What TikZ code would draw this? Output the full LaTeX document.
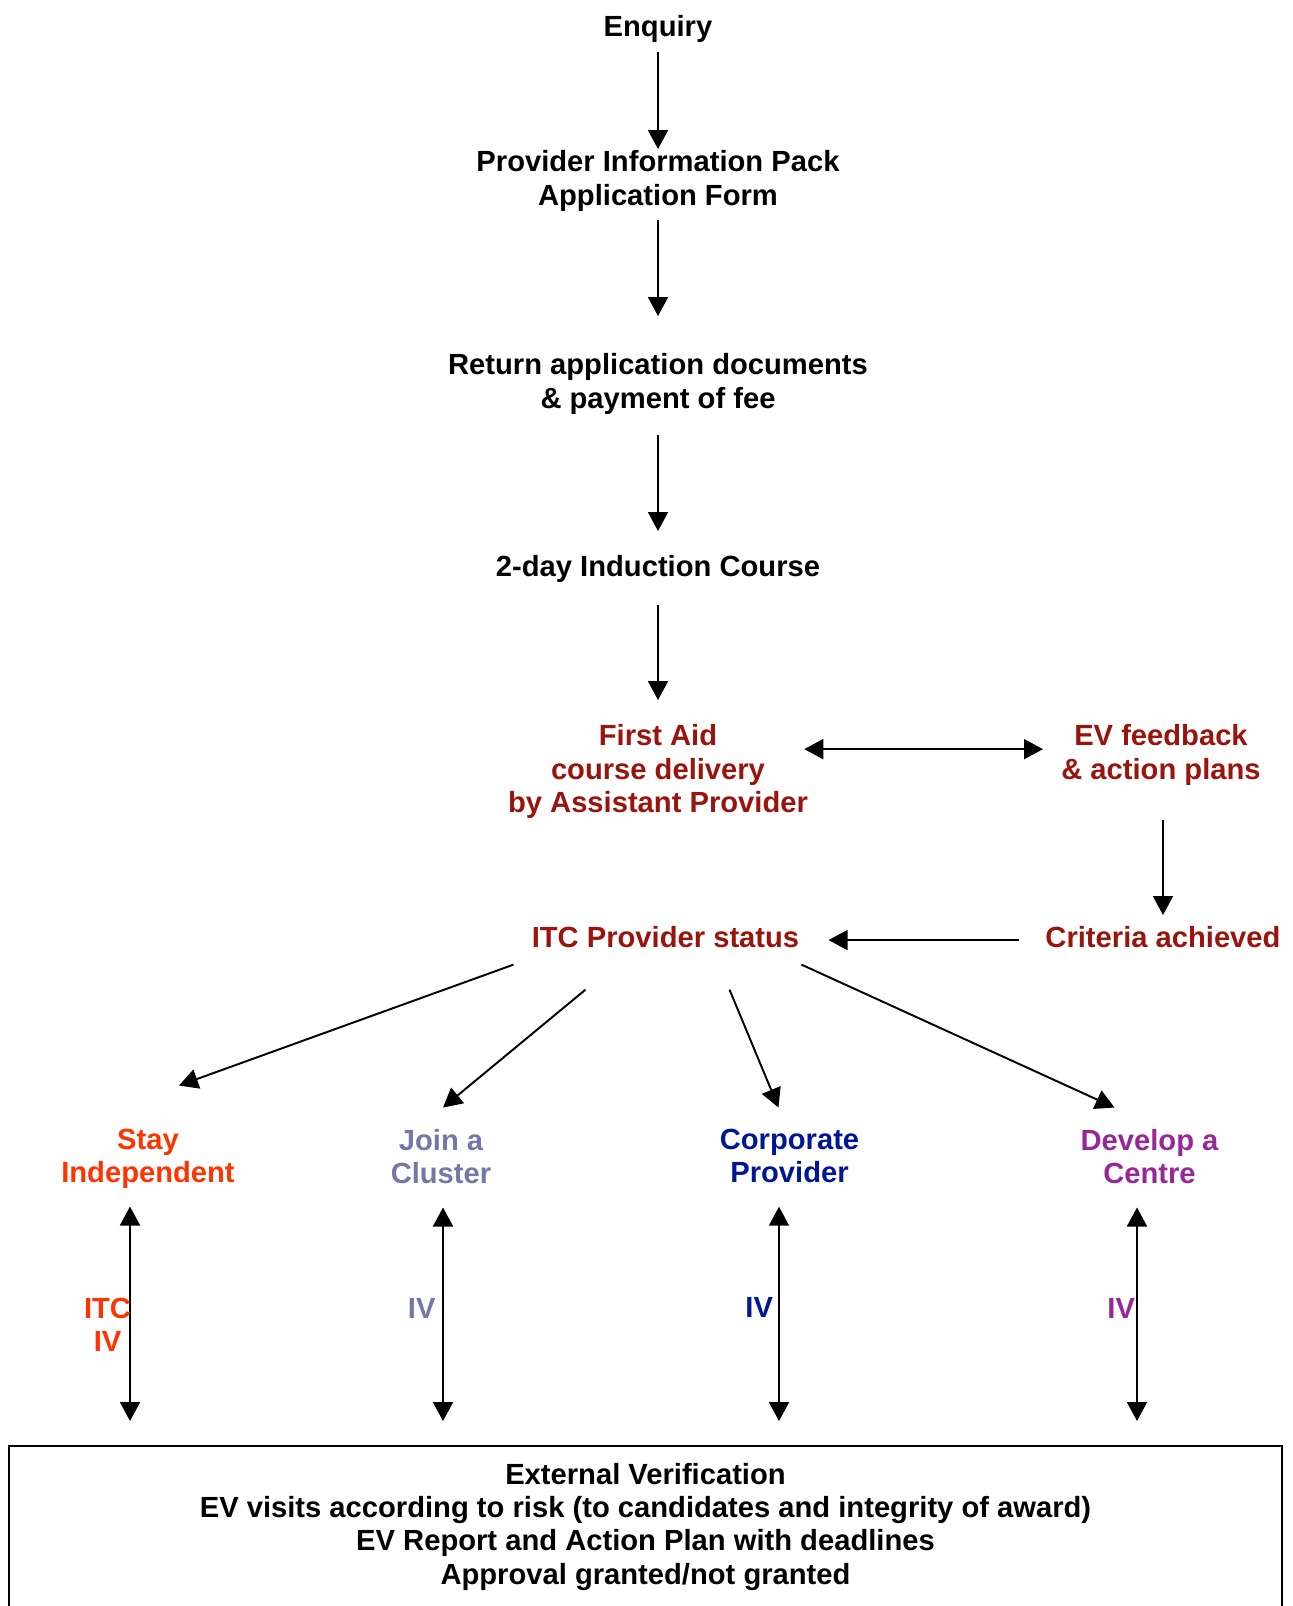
\documentclass[tikz,border=0pt]{standalone}
\usepackage{fontspec}
\setmainfont{Liberation Sans}
\usepackage{tikz}
\usetikzlibrary{arrows.meta,positioning,calc}
\definecolor{evred}{RGB}{153,20,12}
\definecolor{stayred}{RGB}{255,51,0}
\definecolor{joingrey}{RGB}{118,118,168}
\definecolor{corpblue}{RGB}{0,22,150}
\definecolor{devpurple}{RGB}{153,38,153}

\begin{document}
\begin{tikzpicture}[x=0.02cm,y=-0.02cm,
  box/.style={font=\fontsize{16.6}{19}\selectfont\bfseries, align=center, inner sep=0pt, anchor=north},
  arr/.style={-{Triangle[length=0.38cm,width=0.4cm]}, line width=1.1pt},
  darr/.style={{Triangle[length=0.38cm,width=0.4cm]}-{Triangle[length=0.38cm,width=0.4cm]}, line width=1.1pt}]
\useasboundingbox (0,0) rectangle (1293,1606);
\clip (0,0) rectangle (1293,1606);

% application steps
\node[box] (enq) at (658,15.5) {Enquiry};
\node[box] (pip) at (658,150.5) {Provider Information Pack\\Application Form};
\node[box] (ret) at (658,353.5) {Return application documents\\\& payment of fee};
\node[box] (ind) at (658,555.5) {2-day Induction Course};
\node[box, evred] (fa) at (658,724.5) {First Aid\\course delivery\\by Assistant Provider};
\node[box, evred] (evf) at (1161,724.5) {EV feedback\\\& action plans};
\node[box, evred] (crit) at (1163,926.5) {Criteria achieved};
\node[box, evred] (itc) at (665.5,926.5) {ITC Provider status};

\draw[arr, shorten <=0.17cm, shorten >=0.03cm] (enq) -- (pip);
\draw[arr, shorten <=0.17cm, shorten >=0.75cm] (pip) -- (ret);
\draw[arr, shorten <=0.41cm, shorten >=0.49cm] (ret) -- (ind);
\draw[arr, shorten <=0.43cm, shorten >=0.49cm] (ind.south) -- (ind.south |- fa.north);
\draw[darr, shorten <=-0.08cm, shorten >=0.36cm] ([yshift=0.12cm]fa.east |- evf.west) -- ([yshift=0.12cm]evf.west);
\draw[arr, shorten <=0.69cm, shorten >=0.23cm] (crit.north |- evf.south) -- (crit.north);
\draw[arr, shorten <=0.52cm, shorten >=0.58cm] ([yshift=-0.05cm]crit.west) -- ([yshift=-0.05cm]crit.west -| itc.east);

% routes
\node[box, stayred] (stay) at (148,1128.5) {Stay\\Independent};
\node[box, joingrey] (join) at (441,1128.5) {Join a\\Cluster};
\node[box, corpblue] (corp) at (789.5,1128.5) {Corporate\\Provider};
\node[box, devpurple] (dev) at (1149.5,1128.5) {Develop a\\Centre};

\draw[arr] ([shift={(-152,16)}]itc.south) -- ([shift={(31,-43)}]stay.north);
\draw[arr] ([shift={(-80,41)}]itc.south) -- ([shift={(2,-21)}]join.north);
\draw[arr] ([shift={(64,41)}]itc.south) -- ([shift={(-11,-21)}]corp.north);
\draw[arr] ([shift={(136,16)}]itc.south) -- ([shift={(-35,-21)}]dev.north);

% external verification
\node[draw, line width=1.1pt, minimum width=25.46cm, minimum height=3.6cm, anchor=north] (ev) at (645.5,1445) {};
\node[box, below=0.35cm of ev.north] (evtxt) {External Verification\\EV visits according to risk (to candidates and integrity of award)\\EV Report and Action Plan with deadlines\\Approval granted/not granted};

\draw[darr, shorten <=0.35cm, shorten >=0.48cm] ([shift={(-18,0)}]stay.south) -- ([shift={(-18,0)}]stay.south |- ev.north)
  node[box, stayred, anchor=east, pos=0.53, xshift=0.04cm] (itciv) {ITC\\IV};
\draw[darr, shorten <=0.47cm, shorten >=0.48cm] ([shift={(2,0)}]join.south) -- ([shift={(2,0)}]join.south |- ev.north)
  node[box, joingrey, anchor=east, pos=0.476, xshift=-0.13cm] (ivjoin) {IV};
\draw[darr, shorten <=0.47cm, shorten >=0.48cm] ([shift={(-10.5,0)}]corp.south) -- ([shift={(-10.5,0)}]corp.south |- ev.north)
  node[box, corpblue, anchor=east, pos=0.476, xshift=-0.1cm] (ivcorp) {IV};
\draw[darr, shorten <=0.47cm, shorten >=0.48cm] ([shift={(-12.5,0)}]dev.south) -- ([shift={(-12.5,0)}]dev.south |- ev.north)
  node[box, devpurple, anchor=east, pos=0.476, xshift=-0.02cm] (ivdev) {IV};
\end{tikzpicture}
\end{document}
